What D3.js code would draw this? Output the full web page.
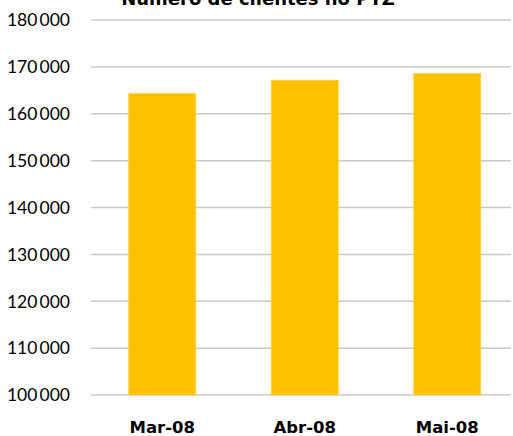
<!DOCTYPE html>
<html><head><meta charset="utf-8">
<script src="https://cdn.jsdelivr.net/npm/d3@7"></script>
<style>body{margin:0;background:#fff}svg{display:block}</style>
</head><body>
<script>
const categories = ["Mar-08", "Abr-08", "Mai-08"];
const values = [164300, 167150, 168600];
const tickValues = [100000,110000,120000,130000,140000,150000,160000,170000,180000];
const title = "Número de clientes no PTZ";

const W = 513, H = 436;
const svg = d3.select("body").append("svg").attr("width", W).attr("height", H);
const font = "Lato, 'Open Sans', sans-serif";
const boldFont = "'DejaVu Sans', sans-serif";

const y = d3.scaleLinear().domain([100000, 180000]).range([395, 20]);
const x = d3.scaleBand().domain(categories).range([91, 518.5]).paddingInner(0.53).paddingOuter(0.265);

const fmt = v => d3.format(",")(v).replace(/,/g, "\u2009");

// gridlines
svg.append("g").selectAll("line").data(tickValues).join("line")
  .attr("x1", 91).attr("x2", 511)
  .attr("y1", d => y(d)).attr("y2", d => y(d))
  .attr("stroke", "#c9c9c9").attr("stroke-width", 1.5);

// y labels
svg.append("g").selectAll("text").data(tickValues).join("text")
  .attr("x", 70).attr("y", d => y(d)).attr("dy", "0.36em")
  .attr("text-anchor", "end").attr("font-family", font).attr("font-size", 17.5)
  .attr("fill", "#000").text(fmt);

// bars
svg.append("g").selectAll("rect").data(values).join("rect")
  .attr("x", (d, i) => x(categories[i])).attr("width", x.bandwidth())
  .attr("y", d => y(d)).attr("height", d => y(100000) - y(d))
  .attr("fill", "#ffc000").attr("stroke", "#ffd347").attr("stroke-width", 0.8);

// x labels
svg.append("g").selectAll("text").data(categories).join("text")
  .attr("x", d => x(d) + x.bandwidth() / 2).attr("y", 433)
  .attr("text-anchor", "middle").attr("font-family", boldFont).attr("font-weight", "bold")
  .attr("font-size", 16.5).attr("fill", "#000").text(d => d);

// title (cut at top, as in the reference)
svg.append("text").attr("x", 258).attr("y", 5).attr("text-anchor", "middle")
  .attr("font-family", boldFont).attr("font-weight", "bold").attr("font-size", 18)
  .attr("fill", "#000").text(title);
</script>
</body></html>
